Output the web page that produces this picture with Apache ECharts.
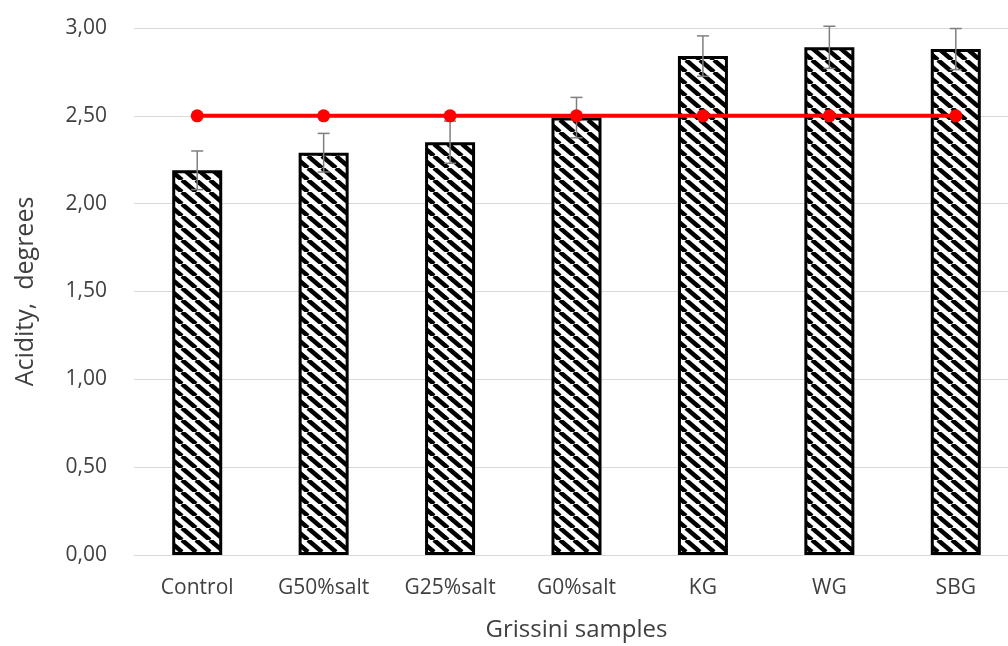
<!DOCTYPE html>
<html>
<head>
<meta charset="utf-8">
<script src="https://cdn.jsdelivr.net/npm/echarts@6/dist/echarts.min.js"></script>
<style>html,body{margin:0;padding:0;background:#fff}#c{width:1008px;height:646px}</style>
</head>
<body>
<div id="c"></div>
<script>
const categories = ['Control', 'G50%salt', 'G25%salt', 'G0%salt', 'KG', 'WG', 'SBG'];
const acidity = [2.19, 2.29, 2.35, 2.49, 2.84, 2.89, 2.88];
const errors = [0.11, 0.11, 0.12, 0.115, 0.115, 0.12, 0.117];
const standard = [2.5, 2.5, 2.5, 2.5, 2.5, 2.5, 2.5];
const yTicks = [0, 0.5, 1, 1.5, 2, 2.5, 3];

function hatch() {
  const w = 14, h = 12;
  const c = document.createElement('canvas');
  c.width = w; c.height = h;
  const g = c.getContext('2d');
  g.fillStyle = '#fff'; g.fillRect(0, 0, w, h);
  g.strokeStyle = '#000'; g.lineWidth = 4.5;
  for (let k = -1; k <= 1; k++) {
    g.beginPath();
    g.moveTo(k * w, 0);
    g.lineTo(k * w + w, h);
    g.stroke();
  }
  return c;
}

const chart = echarts.init(document.getElementById('c'));
const font = '"Open Sans", "Noto Sans", sans-serif';
chart.setOption({
  animation: false,
  grid: { left: 134, top: 28, width: 885, height: 527, containLabel: false, outerBoundsMode: 'none' },
  xAxis: {
    type: 'category', data: categories,
    axisLine: { show: true, lineStyle: { color: '#d9d9d9', width: 1 } },
    axisTick: { show: false },
    axisLabel: { color: '#404040', fontSize: 21, fontFamily: font, margin: 23 },
    name: 'Grissini samples', nameLocation: 'middle', nameGap: 63,
    nameTextStyle: { color: '#404040', fontSize: 24, fontFamily: font }
  },
  yAxis: {
    type: 'value', min: 0, max: 3, interval: 0.5,
    axisLine: { show: false }, axisTick: { show: false },
    splitLine: { lineStyle: { color: '#d9d9d9', width: 1 } },
    axisLabel: {
      color: '#404040', fontSize: 21, fontFamily: font, margin: 27,
      formatter: v => yTicks.includes(v) ? v.toFixed(2).replace('.', ',') : ''
    },
    name: 'Acidity,  degrees', nameLocation: 'middle', nameGap: 96, nameRotate: 90,
    nameTextStyle: { color: '#404040', fontSize: 25, fontFamily: font }
  },
  series: [
    {
      type: 'bar', data: acidity, barWidth: 50, z: 2,
      itemStyle: { color: { image: hatch(), repeat: 'repeat' }, borderColor: '#000', borderWidth: 3 }
    },
    {
      type: 'custom', z: 3,
      data: acidity.map((v, i) => [i, v, errors[i]]),
      renderItem: function (params, api) {
        const x = api.coord([api.value(0), 0])[0];
        const top = api.coord([api.value(0), api.value(1) + api.value(2)])[1];
        const bot = api.coord([api.value(0), api.value(1) - api.value(2)])[1];
        const st = { stroke: '#7f7f7f', lineWidth: 1.5 };
        return {
          type: 'group', children: [
            { type: 'line', shape: { x1: x, y1: top, x2: x, y2: bot }, style: st },
            { type: 'line', shape: { x1: x - 6, y1: top, x2: x + 6, y2: top }, style: st },
            { type: 'line', shape: { x1: x - 6, y1: bot, x2: x + 6, y2: bot }, style: st }
          ]
        };
      }
    },
    {
      type: 'line', data: standard, z: 4,
      symbol: 'circle', symbolSize: 13,
      lineStyle: { color: '#ff0000', width: 4 },
      itemStyle: { color: '#ff0000' }
    }
  ]
});
</script>
</body>
</html>
